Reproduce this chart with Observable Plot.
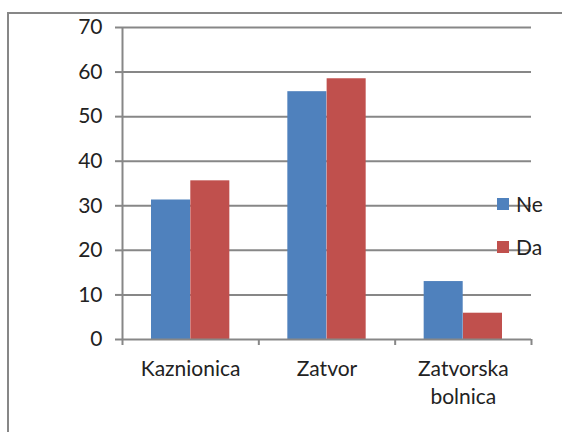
<!DOCTYPE html>
<html>
<head>
<meta charset="utf-8">
<script src="https://cdn.jsdelivr.net/npm/d3@7"></script>
<script src="https://cdn.jsdelivr.net/npm/@observablehq/plot@0.6"></script>
<style>
  html, body { margin: 0; padding: 0; background: #fff; }
  #chart { position: relative; width: 562px; height: 432px; overflow: hidden; font-family: Lato, "Noto Sans", sans-serif; }
  #border { position: absolute; left: 7px; top: 12px; right: -10px; bottom: -10px; border-left: 2px solid #878787; border-top: 2px solid #878787; }
  #chart svg { position: absolute; left: 0; top: 0; }
  .leg { position: absolute; display: flex; align-items: center; font-size: 21px; color: #222; line-height: 1; }
  .leg span.sw { display: inline-block; width: 12px; height: 12px; margin-right: 7px; }
</style>
</head>
<body>
<div id="chart"><div id="border"></div></div>
<script>
const categories = ["Kaznionica", "Zatvor", "Zatvorska\nbolnica"];
const series = ["Ne", "Da"];
const ne = [31.3, 55.6, 13.0];
const da = [35.6, 58.5, 5.9];
const yTicks = [0, 10, 20, 30, 40, 50, 60, 70];
const colors = ["#4F81BD", "#C0504D"];

const rows = categories.map((c, i) => ({i, c, ne: ne[i], da: da[i]}));
const gray = "#878787";

const chart = Plot.plot({
  width: 562,
  height: 432,
  marginLeft: 122,
  marginRight: 31,
  marginTop: 27,
  marginBottom: 93,
  style: {fontFamily: "Lato, 'Noto Sans', sans-serif", fontSize: "21px", color: "#222", background: "transparent"},
  x: {type: "linear", domain: [0, categories.length]},
  y: {domain: [0, 70]},
  marks: [
    Plot.ruleY(yTicks.filter(d => d > 0), {stroke: gray, strokeWidth: 2}),
    Plot.rectY(rows, {x1: d => d.i, x2: d => d.i + 1, y: "ne", fill: colors[0], insetLeft: 29, insetRight: 68.3}),
    Plot.rectY(rows, {x1: d => d.i, x2: d => d.i + 1, y: "da", fill: colors[1], insetLeft: 68.3, insetRight: 29}),
    Plot.ruleX([0], {y1: 0, y2: 70, stroke: gray, strokeWidth: 2}),
    Plot.ruleY([0], {stroke: gray, strokeWidth: 2}),
    Plot.axisY({ticks: yTicks, tickSize: 7, tickPadding: 13, stroke: gray, strokeWidth: 2, label: null, tickFormat: d => String(d), fill: "#222"}),
    Plot.axisX({ticks: d3.range(categories.length + 1), tickSize: 6, tickFormat: () => "", stroke: gray, strokeWidth: 2, label: null}),
    Plot.axisX({ticks: categories.map((c, i) => i + 0.5), tickSize: 0, tickPadding: 17, tickFormat: v => categories[Math.floor(v)], lineHeight: 1.33, label: null, fill: "#222"})
  ]
});
const root = document.getElementById("chart");
root.appendChild(chart);

// legend
const legTops = [193, 236];
series.forEach((s, k) => {
  const el = document.createElement("div");
  el.className = "leg";
  el.style.left = "497px";
  el.style.top = legTops[k] + "px";
  el.innerHTML = `<span class="sw" style="background:${colors[k]}"></span><span>${s}</span>`;
  root.appendChild(el);
});
</script>
</body>
</html>
